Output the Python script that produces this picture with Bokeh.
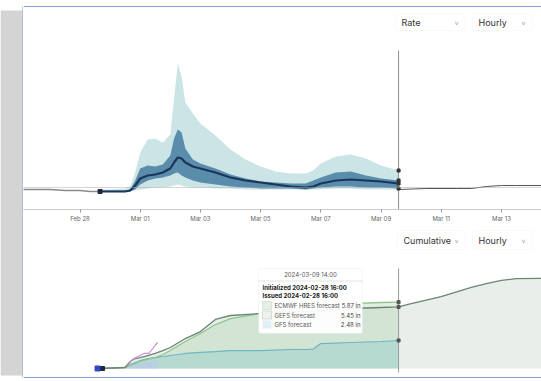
import pandas as pd
from bokeh.plotting import figure
from bokeh.models import Range1d, Span, BoxAnnotation, Label, FixedTicker, DatetimeTickFormatter
from bokeh.layouts import row, column
from bokeh.embed import file_html
from bokeh.resources import INLINE

# ---------------- data ----------------
rate_times = ["2024-02-28 16:00", "2024-02-29 00:00", "2024-02-29 12:00", "2024-02-29 16:00",
              "2024-02-29 20:00", "2024-03-01 00:00", "2024-03-01 06:00", "2024-03-01 12:00",
              "2024-03-01 18:00", "2024-03-02 00:00", "2024-03-02 03:00", "2024-03-02 06:00",
              "2024-03-02 09:00", "2024-03-02 12:00", "2024-03-02 18:00", "2024-03-03 00:00",
              "2024-03-03 12:00", "2024-03-04 00:00", "2024-03-04 12:00", "2024-03-05 00:00",
              "2024-03-05 12:00", "2024-03-06 00:00", "2024-03-06 12:00", "2024-03-06 18:00",
              "2024-03-07 00:00", "2024-03-07 12:00", "2024-03-08 00:00", "2024-03-08 12:00",
              "2024-03-09 00:00", "2024-03-09 14:00"]
rate_light_hi = [0.002, 0.002, 0.003, 0.005, 0.019, 0.039, 0.052, 0.053, 0.049, 0.057,
                 0.093, 0.128, 0.115, 0.089, 0.078, 0.068, 0.056, 0.042, 0.032, 0.025,
                 0.020, 0.018, 0.018, 0.021, 0.028, 0.035, 0.037, 0.033, 0.026, 0.021]
rate_light_lo = [0.0, 0.0, 0.0, 0.001, 0.001, 0.002, 0.003, 0.004, 0.004, 0.005,
                 0.006, 0.007, 0.006, 0.005, 0.004, 0.004, 0.003, 0.003, 0.002, 0.002,
                 0.002, 0.002, 0.002, 0.002, 0.002, 0.003, 0.003, 0.002, 0.002, 0.002]
rate_med_hi = [0.001, 0.001, 0.001, 0.002, 0.011, 0.023, 0.026, 0.025, 0.027, 0.036,
               0.053, 0.062, 0.059, 0.043, 0.032, 0.028, 0.023, 0.017, 0.013, 0.010,
               0.009, 0.008, 0.008, 0.011, 0.014, 0.019, 0.020, 0.016, 0.013, 0.011]
rate_med_lo = [0.0, 0.0, 0.0, 0.0, 0.002, 0.007, 0.011, 0.013, 0.014, 0.016,
               0.018, 0.019, 0.016, 0.014, 0.011, 0.009, 0.007, 0.005, 0.004, 0.003,
               0.003, 0.003, 0.002, 0.003, 0.004, 0.005, 0.005, 0.004, 0.004, 0.003]
rate_median = [0.0, 0.0, 0.0, 0.001, 0.006, 0.013, 0.016, 0.017, 0.019, 0.023,
               0.029, 0.034, 0.033, 0.029, 0.025, 0.023, 0.019, 0.014, 0.011, 0.009,
               0.007, 0.005, 0.004, 0.005, 0.008, 0.011, 0.012, 0.011, 0.010, 0.008]
hist_times = ["2024-02-26 00:00", "2024-02-26 12:00", "2024-02-27 00:00", "2024-02-27 12:00",
              "2024-02-28 00:00", "2024-02-28 08:00", "2024-02-28 16:00"]
hist_rate = [0.002, 0.002, 0.002, 0.001, 0.001, 0.000, 0.000]
ext_times = ["2024-03-09 14:00", "2024-03-10 12:00", "2024-03-11 12:00", "2024-03-12 00:00",
             "2024-03-12 12:00", "2024-03-13 00:00", "2024-03-13 12:00", "2024-03-14 12:00"]
ext_rate = [0.002, 0.003, 0.003, 0.003, 0.005, 0.006, 0.006, 0.006]

cum_times = ["2024-02-28 16:00", "2024-02-29 12:00", "2024-02-29 16:00", "2024-02-29 20:00",
             "2024-03-01 00:00", "2024-03-01 06:00", "2024-03-01 12:00", "2024-03-01 18:00",
             "2024-03-02 00:00", "2024-03-02 12:00", "2024-03-03 00:00", "2024-03-03 12:00",
             "2024-03-04 00:00", "2024-03-05 00:00", "2024-03-06 00:00", "2024-03-06 12:00",
             "2024-03-06 18:00", "2024-03-07 00:00", "2024-03-08 00:00", "2024-03-09 00:00",
             "2024-03-09 14:00"]
ecmwf_cum = [0, 0.09, 0.27, 0.44, 0.62, 0.80, 0.97, 1.24, 1.59, 2.39, 3.10, 3.89, 4.42,
             4.87, 5.22, 5.40, 5.48, 5.58, 5.75, 5.84, 5.87]
gefs_cum = [0, 0.09, 0.62, 0.88, 0.97, 1.15, 1.33, 1.59, 1.86, 2.65, 3.27, 4.34, 4.69,
            4.87, 5.04, 5.04, 5.08, 5.13, 5.31, 5.40, 5.45]
gfs_cum = [0, 0.09, 0.35, 0.53, 0.71, 0.88, 0.97, 1.06, 1.15, 1.33, 1.42, 1.50, 1.59,
           1.59, 1.68, 1.68, 1.72, 2.21, 2.30, 2.39, 2.48]
gefs_ext_times = ["2024-03-10 00:00", "2024-03-11 00:00", "2024-03-12 00:00", "2024-03-12 12:00",
                  "2024-03-13 00:00", "2024-03-13 12:00", "2024-03-14 12:00"]
gefs_ext_cum = [5.75, 6.37, 7.17, 7.52, 7.79, 7.96, 7.98]
obs_times = ["2024-02-29 14:00", "2024-02-29 17:00", "2024-02-29 19:00", "2024-03-01 03:00",
             "2024-03-01 07:00", "2024-03-01 10:00", "2024-03-01 13:00", "2024-03-01 14:00"]
obs_cum = [0.27, 0.71, 0.88, 1.33, 1.33, 1.77, 2.21, 2.30]
obs_fill_times = ["2024-02-29 10:00", "2024-02-29 16:00", "2024-03-01 00:00",
                  "2024-03-01 08:00", "2024-03-01 14:00"]
obs_fill_cum = [0.0, 0.3, 0.5, 0.6, 0.7]

tick_dates = ["2024-02-26", "2024-02-28", "2024-03-01", "2024-03-03", "2024-03-05",
              "2024-03-07", "2024-03-09", "2024-03-11", "2024-03-13"]
init_time = "2024-02-28 16:00"
valid_time = "2024-03-09 14:00"
legend_names = ["ECMWF HRES forecast", "GEFS forecast", "GFS forecast"]
legend_values = [5.87, 5.45, 2.48]

# ---------------- helpers (pixel layout, page origin at top-left) ----------------
T0 = pd.Timestamp("2024-02-28 00:00")
PX0, PXH = 79.5, 1.2542
PANEL_X = 23          # left edge of the chart panel
TOP_H, BOT_H = 228, 153


def tx(px):
    return (T0 + pd.Timedelta(hours=(px - PX0) / PXH)).value / 1e6


def ms(s):
    return pd.Timestamp(s).value / 1e6


def ty(py):               # page y -> rate value (top chart)
    return (191 - py) / 1000.0


def by(py):               # page y -> cumulative inches (bottom chart)
    return (368 - py) / 11.3


FONT = "Inter"
BORDER = "#8aa3d4"
xr = Range1d(start=tx(PANEL_X), end=tx(541))

# ---------------- gray side band ----------------
side = figure(width=PANEL_X, height=TOP_H + BOT_H, output_backend="svg",
              toolbar_location=None, x_axis_location=None, y_axis_location=None,
              min_border=0, background_fill_color="white", border_fill_color="white",
              outline_line_color=None, title_location=None,
              x_range=Range1d(0, PANEL_X), y_range=Range1d(TOP_H + BOT_H, 0))
side.grid.visible = False
side.quad(left=[0], right=[PANEL_X - 1], top=[10], bottom=[375], fill_color="#d4d4d4",
          line_color=None)
side.segment(x0=[PANEL_X - 0.5], y0=[6], x1=[PANEL_X - 0.5], y1=[377], line_color=BORDER,
             line_width=1.2)

# ---------------- top (rate) chart ----------------
top = figure(width=541 - PANEL_X, height=TOP_H, x_axis_type="datetime", x_range=xr,
             y_range=Range1d(ty(209), ty(0)), output_backend="svg", toolbar_location=None,
             y_axis_location=None, min_border_left=0, min_border_right=0,
             min_border_top=0, min_border_bottom=TOP_H - 209, outline_line_color=None,
             title_location=None, background_fill_color="white")
top.grid.visible = False

rt = pd.to_datetime(rate_times)
top.add_layout(Span(location=0.004, dimension="width", line_color="#aaaaaa",
                    line_width=1, line_dash="1 1"))
top.varea(x=rt, y1=rate_light_lo, y2=rate_light_hi, fill_color="#cbe4e6")
top.varea(x=rt, y1=rate_med_lo, y2=rate_med_hi, fill_color="#5a8cab")
top.line(pd.to_datetime(hist_times), hist_rate, line_color="#8a8a8a", line_width=1.3)
top.line(pd.to_datetime(ext_times), ext_rate, line_color="#555555", line_width=1)
top.line(rt, rate_median, line_color="#1b355a", line_width=2.2)
vt = pd.Timestamp(valid_time)
top.segment(x0=[vt], y0=[ty(50)], x1=[vt], y1=[ty(209)], line_color="#8c8c8c", line_width=1)
ends = [rate_light_hi[-1], rate_med_hi[-1], rate_median[-1], rate_med_lo[-1]]
top.scatter(x=[vt] * 4, y=ends, marker="square", size=3, color="#333333")
top.scatter(x=[pd.Timestamp(init_time)], y=[rate_median[0]], marker="square", size=4,
            color="#1b2a40")

top.xaxis.ticker = FixedTicker(ticks=[ms(d) for d in tick_dates])
top.xaxis.formatter = DatetimeTickFormatter(hours="%b %d", days="%b %d", months="%b %d",
                                            years="%b %d")
top.xaxis.axis_label = None
top.xaxis.axis_label_standoff = 0
top.xaxis.axis_line_color = "#cccccc"
top.xaxis.major_tick_line_color = "#999999"
top.xaxis.major_tick_out = 3
top.xaxis.major_tick_in = 0
top.xaxis.minor_tick_line_color = None
top.xaxis.major_label_text_font_size = "6px"
top.xaxis.major_label_text_color = "#666666"
top.xaxis.major_label_text_font = FONT
top.xaxis.major_label_standoff = 2

top.add_layout(Span(location=ty(6), dimension="width", line_color=BORDER, line_width=1.2))


def dropdown(p, yf, x0, x1, y0, y1, text):
    p.add_layout(BoxAnnotation(left=tx(x0), right=tx(x1), top=yf(y0), bottom=yf(y1),
                               fill_color="white", fill_alpha=1, line_color="#ececec",
                               line_width=1, border_radius=3))
    ym = yf((y0 + y1) / 2)
    p.add_layout(Label(x=tx(x0 + 6), y=ym, text=text, text_font=FONT, text_font_size="9px",
                       text_baseline="middle", text_color="#333333"))
    p.add_layout(Label(x=tx(x1 - 9), y=ym, text="v", text_font="DejaVu Sans",
                       text_font_size="6px", text_align="center", text_baseline="middle",
                       text_color="#999999"))


dropdown(top, ty, 395, 465, 13, 30, "Rate")
dropdown(top, ty, 472, 532, 13, 30, "Hourly")

# ---------------- bottom (cumulative) chart ----------------
bot = figure(width=541 - PANEL_X, height=BOT_H, x_range=xr,
             y_range=Range1d(by(TOP_H + BOT_H), by(TOP_H)),
             output_backend="svg", toolbar_location=None, x_axis_location=None,
             y_axis_location=None, min_border=0, outline_line_color=None,
             title_location=None, background_fill_color="white")
bot.grid.visible = False

ct = pd.to_datetime(cum_times)
gefs_all_t = pd.to_datetime(cum_times + gefs_ext_times)
gefs_all = gefs_cum + gefs_ext_cum
bot.varea(x=gefs_all_t, y1=0, y2=gefs_all, fill_color="#7fa88c", fill_alpha=0.18)
bot.varea(x=ct, y1=0, y2=ecmwf_cum, fill_color="#a8d0a8", fill_alpha=0.35)
bot.varea(x=ct, y1=0, y2=gfs_cum, fill_color="#7cc3c9", fill_alpha=0.3)
bot.varea(x=pd.to_datetime(obs_fill_times), y1=0, y2=obs_fill_cum, fill_color="#b9c8ee",
          fill_alpha=0.6)
bot.line(ct, gfs_cum, line_color="#6cb6bf", line_width=1.2)
bot.line(ct, ecmwf_cum, line_color="#93c391", line_width=1.3)
bot.line(gefs_all_t, gefs_all, line_color="#6b8573", line_width=1.3)
bot.line(pd.to_datetime(obs_times), obs_cum, line_color="#c88fd6", line_width=1.2)
bot.segment(x0=[vt], y0=[by(268)], x1=[vt], y1=[by(372)], line_color="#999999", line_width=1)
bot.scatter(x=[vt] * 3, y=legend_values, marker="square", size=3, color="#555555")
bot.scatter(x=[pd.Timestamp(init_time) - pd.Timedelta(hours=2)], y=[0], marker="square",
            size=5, color="#3344cc")
bot.scatter(x=[pd.Timestamp(init_time) + pd.Timedelta(hours=2)], y=[0], marker="square",
            size=4, color="#1b2a40")

bot.add_layout(Span(location=by(377), dimension="width", line_color=BORDER, line_width=1.2))

dropdown(bot, by, 397, 465, 230, 249, "Cumulative")
dropdown(bot, by, 472, 532, 230, 249, "Hourly")

# tooltip
bot.add_layout(BoxAnnotation(left=tx(258), right=tx(362), top=by(268), bottom=by(333),
                             fill_color="white", fill_alpha=0.93, line_color="#dddddd",
                             line_width=1, border_radius=2))
bot.add_layout(BoxAnnotation(left=tx(258), right=tx(362), top=by(280), bottom=by(281),
                             fill_color="#e4e4e4", fill_alpha=1, line_color=None))
bot.add_layout(Label(x=tx(310), y=by(274), text=valid_time, text_font=FONT,
                     text_font_size="6px", text_align="center", text_baseline="middle",
                     text_color="#555555"))
bot.add_layout(Label(x=tx(262), y=by(287), text="Initialized " + init_time, text_font=FONT,
                     text_font_size="6px", text_font_style="bold", text_baseline="middle",
                     text_color="#222222"))
bot.add_layout(Label(x=tx(262), y=by(295), text="Issued " + init_time, text_font=FONT,
                     text_font_size="6px", text_font_style="bold", text_baseline="middle",
                     text_color="#222222"))
sw_fill = ["#e3f0e3", "#eef2ee", "#e2f0f6"]
sw_line = ["#9ab59e", "#8d9d91", None]
for i, (name, val) in enumerate(zip(legend_names, legend_values)):
    yc = 305 + i * 9.5
    bot.add_layout(BoxAnnotation(left=tx(262), right=tx(271), top=by(yc - 4), bottom=by(yc + 4),
                                 fill_color=sw_fill[i], fill_alpha=1, line_color=sw_line[i],
                                 line_width=1))
    bot.add_layout(Label(x=tx(274), y=by(yc), text=name, text_font=FONT, text_font_size="6px",
                         text_baseline="middle", text_color="#555555"))
    bot.add_layout(Label(x=tx(360), y=by(yc), text=f"{val:.2f} in", text_font=FONT,
                         text_font_size="6px", text_align="right", text_baseline="middle",
                         text_color="#444444"))

layout = row(side, column(top, bot))
open("out.html", "w").write(file_html(layout, INLINE))
